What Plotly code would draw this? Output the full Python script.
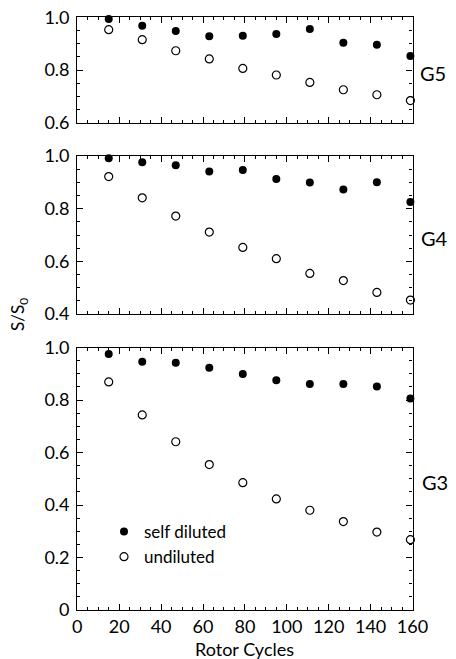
import plotly.graph_objects as go

# page body has an 8px margin: figure is sized to fit the 456x659 viewport
OFF = 8
W, H = 456 - OFF, 659 - OFF

rotor_cycles = [15, 31, 47, 63, 79, 95, 111, 127, 143, 159]

g5_self = [0.994, 0.968, 0.948, 0.928, 0.930, 0.937, 0.956, 0.903, 0.896, 0.853]
g5_undil = [0.953, 0.915, 0.873, 0.842, 0.806, 0.781, 0.753, 0.725, 0.706, 0.684]

g4_self = [0.991, 0.976, 0.965, 0.941, 0.947, 0.913, 0.899, 0.873, 0.900, 0.825]
g4_undil = [0.922, 0.841, 0.772, 0.711, 0.653, 0.610, 0.554, 0.527, 0.482, 0.453]

g3_self = [0.975, 0.946, 0.942, 0.923, 0.899, 0.875, 0.861, 0.861, 0.851, 0.806]
g3_undil = [0.869, 0.743, 0.641, 0.554, 0.485, 0.423, 0.380, 0.337, 0.297, 0.268]

x_ticks = [0, 20, 40, 60, 80, 100, 120, 140, 160]
g3_yticks = [0, 0.2, 0.4, 0.6, 0.8, 1.0]
g3_ytext = ["0", "0.2", "0.4", "0.6", "0.8", "1.0"]
g4_yticks = [0.4, 0.6, 0.8, 1.0]
g4_ytext = ["0.4", "0.6", "0.8", "1.0"]
g5_yticks = [0.6, 0.8, 1.0]
g5_ytext = ["0.6", "0.8", "1.0"]

FONT = "Lato"


def px(sx):
    return (sx - OFF) / W


def py(sy):
    return 1 - (sy - OFF) / H


fig = go.Figure()

filled = dict(symbol="circle", size=8, color="black")
opened = dict(symbol="circle-open", size=8, color="black", line=dict(width=1.2, color="black"))

panels = [("x", "y", g3_self, g3_undil, True),
          ("x2", "y2", g4_self, g4_undil, False),
          ("x3", "y3", g5_self, g5_undil, False)]
for xa, ya, s, u, leg in panels:
    fig.add_trace(go.Scatter(x=rotor_cycles, y=s, mode="markers", marker=filled,
                             name="self diluted", showlegend=leg, xaxis=xa, yaxis=ya,
                             cliponaxis=False))
    fig.add_trace(go.Scatter(x=rotor_cycles, y=u, mode="markers", marker=opened,
                             name="undiluted", showlegend=leg, xaxis=xa, yaxis=ya,
                             cliponaxis=False))

xdom = [px(77.3), px(412.5)]


def ydom(top_px, bot_px):
    return [py(bot_px), py(top_px)]


common_x = dict(range=[0, 160], tickvals=x_ticks, ticks="inside", ticklen=6, tickwidth=1.2,
                tickcolor="black", showline=True, linecolor="black", linewidth=1.3,
                mirror="ticks", showgrid=False, zeroline=False, domain=xdom, automargin=False,
                ticklabeloverflow="allow",
                minor=dict(dtick=5, ticks="inside", ticklen=3, tickwidth=1, tickcolor="black"),
                tickfont=dict(family=FONT, size=18, color="black"))
common_y = dict(ticks="inside", ticklen=6, tickwidth=1.2, tickcolor="black", showline=True,
                linecolor="black", linewidth=1.3, mirror="ticks", showgrid=False,
                zeroline=False, tickfont=dict(family=FONT, size=18, color="black"),
                automargin=False, ticklabelstandoff=3, ticklabeloverflow="allow",
                minor=dict(dtick=0.05, ticks="inside", ticklen=3, tickwidth=1, tickcolor="black"))

fig.update_layout(
    width=W, height=H, margin=dict(l=0, r=0, t=0, b=0, pad=0, autoexpand=False),
    paper_bgcolor="white", plot_bgcolor="white",
    font=dict(family=FONT, color="black"),
    xaxis=dict(common_x, anchor="y", showticklabels=True),
    xaxis2=dict(common_x, anchor="y2", matches="x", showticklabels=False),
    xaxis3=dict(common_x, anchor="y3", matches="x", showticklabels=False),
    yaxis=dict(common_y, anchor="x", domain=ydom(347.5, 610), range=[0, 1.0],
               tickvals=g3_yticks, ticktext=g3_ytext),
    yaxis2=dict(common_y, anchor="x2", domain=ydom(156, 314), range=[0.4, 1.0],
                tickvals=g4_yticks, ticktext=g4_ytext),
    yaxis3=dict(common_y, anchor="x3", domain=ydom(17.3, 122.7), range=[0.6, 1.0],
                tickvals=g5_yticks, ticktext=g5_ytext),
    legend=dict(x=px(104), y=py(514), xanchor="left", yanchor="top",
                bgcolor="rgba(0,0,0,0)", font=dict(family=FONT, size=17, color="black"),
                itemsizing="trace", tracegroupgap=0),
    showlegend=True,
)

annots = [
    dict(text="G5", x=px(433), y=py(72.7)),
    dict(text="G4", x=px(434), y=py(238)),
    dict(text="G3", x=px(435), y=py(481.7)),
]
for a in annots:
    fig.add_annotation(text=a["text"], x=a["x"], y=a["y"], xref="paper", yref="paper",
                       showarrow=False, xanchor="center", yanchor="middle",
                       font=dict(family=FONT, size=20, color="black"))

fig.add_annotation(text="S/S<sub>0</sub>", x=px(19), y=py(315), xref="paper", yref="paper",
                   showarrow=False, textangle=-90, xanchor="center", yanchor="middle",
                   font=dict(family=FONT, size=17, color="black"))
fig.add_annotation(text="Rotor Cycles", x=px(245), y=py(649), xref="paper", yref="paper",
                   showarrow=False, xanchor="center", yanchor="middle",
                   font=dict(family=FONT, size=18, color="black"))

fig.write_html("out.html")
